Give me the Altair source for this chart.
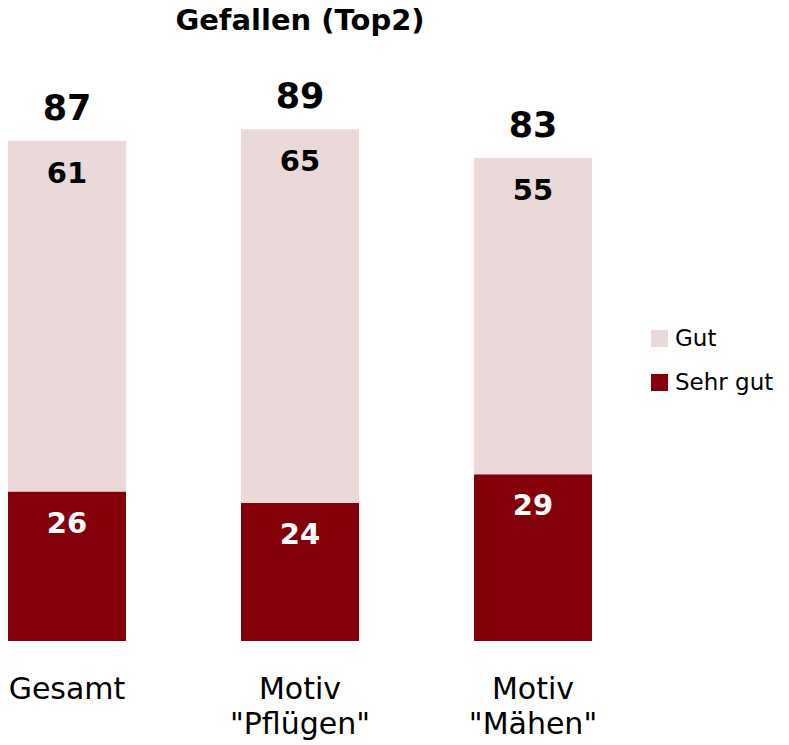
import altair as alt
import pandas as pd

categories = ["Gesamt", "Motiv\n\"Pflügen\"", "Motiv\n\"Mähen\""]
sehr_gut = [26, 24, 29]
gut = [61, 65, 55]
top2 = [87, 89, 83]
series = ["Gut", "Sehr gut"]
colors = ["#EBD9DA", "#83000A"]

FONT = "DejaVu Sans"

rows = []
for c, s, g in zip(categories, sehr_gut, gut):
    rows.append({"cat": c, "series": "Sehr gut", "value": s, "ord": 0, "top": s})
    rows.append({"cat": c, "series": "Gut", "value": g, "ord": 1, "top": s + g})
long = pd.DataFrame(rows)
tot = pd.DataFrame({
    "cat": categories,
    "total": top2,
    "top": [s + g for s, g in zip(sehr_gut, gut)],
})

x = alt.X(
    "cat:N",
    sort=categories,
    scale=alt.Scale(paddingInner=0.4936, paddingOuter=0),
    axis=alt.Axis(
        title=None, labelAngle=0, labelExpr="split(datum.label, '\\n')",
        labelFont=FONT, labelFontSize=30, labelColor="#000000",
        labelLineHeight=35, labelPadding=33, domain=False, ticks=False,
        grid=False, labelBaseline="top",
    ),
)
yscale = alt.Scale(domain=[0, 100])

bars = alt.Chart(long).mark_bar().encode(
    x=x,
    y=alt.Y("value:Q", stack="zero", scale=yscale, axis=None),
    order=alt.Order("ord:Q"),
    color=alt.Color(
        "series:N",
        scale=alt.Scale(domain=series, range=colors),
        legend=alt.Legend(
            title=None, orient="none", legendX=640, legendY=261,
            symbolType="square", symbolSize=289, symbolStrokeWidth=0,
            symbolOpacity=1, labelFont=FONT, labelFontSize=23,
            labelColor="#000000", rowPadding=20, padding=0, labelOffset=4,
        ),
    ),
)

seg_gut = alt.Chart(long[long.series == "Gut"]).mark_text(
    font=FONT, fontSize=29, fontWeight="bold", color="#000000",
    baseline="middle", dy=33,
).encode(x=x, y=alt.Y("top:Q", scale=yscale), text="value:Q")

seg_sg = alt.Chart(long[long.series == "Sehr gut"]).mark_text(
    font=FONT, fontSize=29, fontWeight="bold", color="#FFFFFF",
    baseline="middle", dy=32,
).encode(x=x, y=alt.Y("top:Q", scale=yscale), text="value:Q")

totals = alt.Chart(tot).mark_text(
    font=FONT, fontSize=35, fontWeight="bold", color="#000000",
    baseline="middle", dy=-32,
).encode(x=x, y=alt.Y("top:Q", scale=yscale), text="total:Q")

chart = alt.layer(bars, seg_gut, seg_sg, totals).properties(
    width=584,
    height=575,
    title=alt.Title("Gefallen (Top2)", font=FONT, fontSize=29,
                    fontWeight="bold", color="#000000", offset=30,
                    anchor="middle"),
    autosize=alt.AutoSizeParams(type="none"),
    padding={"left": 8, "top": 66, "right": 197, "bottom": 104},
).configure(background="#FFFFFF").configure_view(strokeWidth=0, stroke="transparent")

chart.save("out.html", embed_options={"renderer": "svg", "actions": False})
